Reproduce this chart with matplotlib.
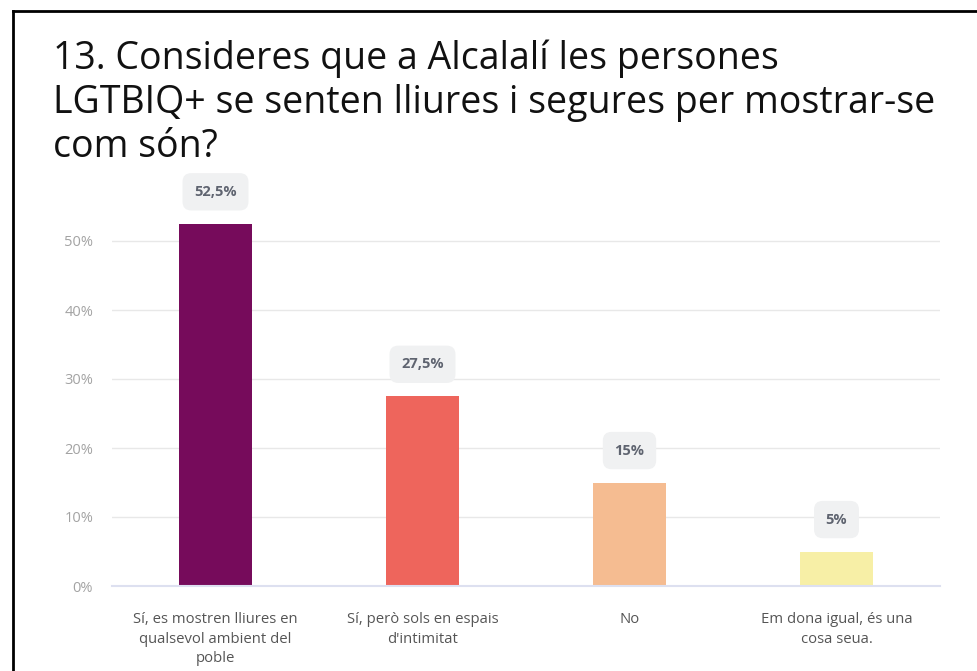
import matplotlib.pyplot as plt
from matplotlib.lines import Line2D

categories = ["Sí, es mostren lliures en\nqualsevol ambient del\npoble",
              "Sí, però sols en espais\nd'intimitat",
              "No",
              "Em dona igual, és una\ncosa seua."]
values = [52.5, 27.5, 15, 5]
value_labels = ["52,5%", "27,5%", "15%", "5%"]
colors = ["#760b5b", "#ee655c", "#f5bc91", "#f7efa6"]
yticks = [0, 10, 20, 30, 40, 50]
title = "13. Consideres que a Alcalalí les persones\nLGTBIQ+ se senten lliures i segures per mostrar-se\ncom són?"

plt.rcParams['font.family'] = ['Open Sans', 'DejaVu Sans']

fig = plt.figure(figsize=(9.78, 6.71), dpi=100)
ax = fig.add_axes([112/978, 85/671, 828/978, 379.5/671])

x = range(len(values))
ax.bar(x, values, width=0.35, color=colors, zorder=3)

for xi, v, lab in zip(x, values, value_labels):
    ax.annotate(lab, (xi, v), xytext=(0, 23), textcoords='offset points',
                ha='center', va='center', fontsize=10.5, fontweight='bold', color='#5f6470',
                bbox=dict(boxstyle='round,pad=0.8,rounding_size=0.6', fc='#f0f1f2', ec='none'),
                zorder=4)

ax.set_xlim(-0.5, 3.5)
ax.set_ylim(0, 55)
ax.set_yticks(yticks)
ax.set_yticklabels([f"{t}%" for t in yticks], color='#a3a3a3', fontsize=10.5)
ax.set_xticks(list(x))
ax.set_xticklabels(categories, color='#555555', fontsize=10.7, linespacing=1.4)
ax.tick_params(axis='y', length=0, pad=13.5)
ax.tick_params(axis='x', length=0, pad=19)
ax.yaxis.grid(True, color='#e8e8e8', linewidth=1, zorder=0)
for s in ['top', 'right', 'left']:
    ax.spines[s].set_visible(False)
ax.spines['bottom'].set_color('#dde0f0')
ax.spines['bottom'].set_linewidth(1.5)
ax.spines['bottom'].set_zorder(4)

fig.text(53/978, 1 - 40/671, title, ha='left', va='top', fontsize=27,
         fontweight='medium', color='#111111', linespacing=1.2)

# frame lines of the screenshot
fig.add_artist(Line2D([13/978, 13/978], [0, 1 - 11/671], color='black', linewidth=2, transform=fig.transFigure))
fig.add_artist(Line2D([13/978, 1], [1 - 11/671, 1 - 11/671], color='black', linewidth=2, transform=fig.transFigure))

fig.savefig('out.png', dpi=100)
